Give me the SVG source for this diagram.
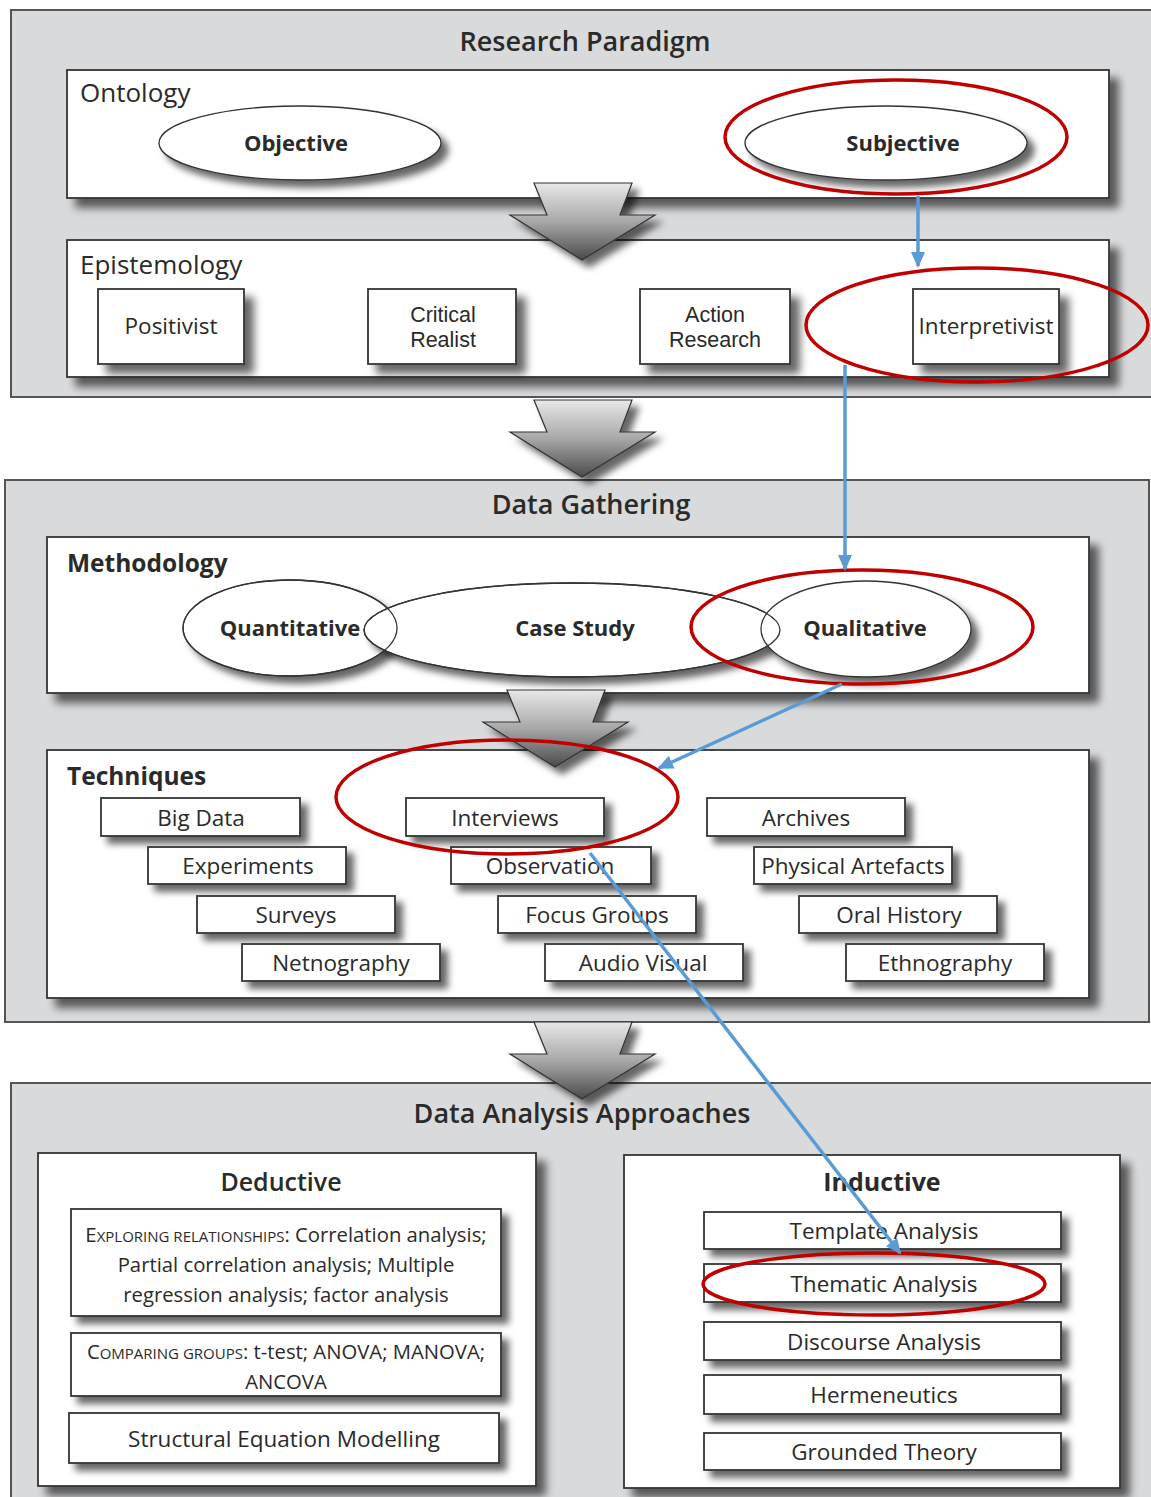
<svg xmlns="http://www.w3.org/2000/svg" xmlns:xlink="http://www.w3.org/1999/xlink" width="1151" height="1497" viewBox="0 0 1151 1497">
<defs>
  <filter id="sh" x="-10%" y="-10%" width="130%" height="150%">
    <feDropShadow dx="9" dy="9" stdDeviation="4" flood-color="#000" flood-opacity="0.6"/>
  </filter>
  <filter id="shs" x="-20%" y="-30%" width="150%" height="180%">
    <feDropShadow dx="7" dy="7" stdDeviation="3.5" flood-color="#000" flood-opacity="0.6"/>
  </filter>
  <linearGradient id="ag" x1="0" y1="0" x2="0" y2="1">
    <stop offset="0" stop-color="#e8e8e8"/>
    <stop offset="0.5" stop-color="#a8a8a8"/>
    <stop offset="1" stop-color="#4a4a4a"/>
  </linearGradient>
  <path id="bigarrow" d="M-48,0 L50,0 L38,32 L73,32 L0,77 L-72,32 L-35,32 Z" fill="url(#ag)" stroke="#333" stroke-width="1.2"/>
  <marker id="bh" markerUnits="userSpaceOnUse" markerWidth="16" markerHeight="14" refX="14" refY="7" orient="auto">
    <path d="M0,0 L16,7 L0,14 Z" fill="#5b9bd5"/>
  </marker>
</defs>
<style>
  text { font-family: "Open Sans", "Liberation Sans", sans-serif; fill: #2a2a2a; }
  .panel { fill: #d9dadc; stroke: #555; stroke-width: 2; }
  .box { fill: #fff; stroke: #333; stroke-width: 1.8; filter: url(#sh); }
  .sbox { fill: #fff; stroke: #333; stroke-width: 1.8; filter: url(#shs); }
  .oval { fill: #fff; stroke: #333; stroke-width: 1.3; filter: url(#shs); }
  .ovalline { fill: none; stroke: #333; stroke-width: 1.3; }
  .title { font-size: 27px; font-weight: 600; text-anchor: middle; }
  .lab { font-size: 26px; }
  .labb { font-size: 24.5px; font-weight: 700; }
  .ot { font-size: 22px; font-weight: 700; text-anchor: middle; }
  .t { font-size: 22.5px; text-anchor: middle; }
  .t2 { font-family: "Liberation Sans", Arial, sans-serif; font-size: 21.5px; text-anchor: middle; }
  .ts { font-size: 20.3px; text-anchor: middle; }
  .sc { font-size: 15px; }
  .red { fill: none; stroke: #c00000; stroke-width: 3.5; }
  .blue { fill: none; stroke: #5b9bd5; stroke-width: 3.5; marker-end: url(#bh); }
</style>

<!-- Panels -->
<g id="panel-research-paradigm">
  <rect class="panel" x="11" y="10" width="1145" height="387"/>
  <text class="title" x="585" y="51">Research Paradigm</text>
</g>
<g id="panel-data-gathering">
  <rect class="panel" x="5" y="480" width="1144" height="542"/>
  <text class="title" x="591" y="514">Data Gathering</text>
</g>
<g id="panel-data-analysis">
  <rect class="panel" x="11" y="1083" width="1145" height="420"/>
  <text class="title" x="582" y="1123">Data Analysis Approaches</text>
</g>

<!-- Ontology -->
<g id="ontology">
  <rect class="box" x="67" y="70" width="1042" height="128"/>
  <text class="lab" x="80" y="102">Ontology</text>
</g>
<g id="objective">
  <ellipse class="oval" cx="300" cy="143" rx="141" ry="37"/>
  <text class="ot" x="296" y="151">Objective</text>
</g>
<g id="subjective">
  <ellipse class="oval" cx="886" cy="143" rx="141" ry="37"/>
  <text class="ot" x="903" y="151">Subjective</text>
</g>

<!-- Epistemology -->
<g id="epistemology">
  <rect class="box" x="67" y="240" width="1042" height="137"/>
  <text class="lab" x="80" y="274">Epistemology</text>
</g>
<g id="positivist">
  <rect class="box" x="98" y="289" width="146" height="75"/>
  <text class="t" x="171" y="334">Positivist</text>
</g>
<g id="critical-realist">
  <rect class="box" x="368" y="289" width="148" height="75"/>
  <text class="t2" x="443" y="322">Critical</text>
  <text class="t2" x="443" y="347">Realist</text>
</g>
<g id="action-research">
  <rect class="box" x="640" y="289" width="150" height="75"/>
  <text class="t2" x="715" y="322">Action</text>
  <text class="t2" x="715" y="347">Research</text>
</g>
<g id="interpretivist">
  <rect class="box" x="913" y="289" width="146" height="75"/>
  <text class="t" x="986" y="334">Interpretivist</text>
</g>

<!-- Methodology -->
<g id="methodology">
  <rect class="box" x="47" y="537" width="1042" height="156"/>
  <text class="labb" x="67" y="572">Methodology</text>
</g>
<g id="methodology-ovals">
  <ellipse class="oval" cx="290" cy="628" rx="107" ry="48"/>
  <ellipse class="oval" cx="572" cy="630" rx="208" ry="47"/>
  <ellipse class="oval" cx="866" cy="629" rx="105" ry="48"/>
  <ellipse class="ovalline" cx="290" cy="628" rx="107" ry="48"/>
  <ellipse class="ovalline" cx="572" cy="630" rx="208" ry="47"/>
</g>
<g id="quantitative"><text class="ot" x="290" y="636">Quantitative</text></g>
<g id="case-study"><text class="ot" x="575" y="636">Case Study</text></g>
<g id="qualitative"><text class="ot" x="865" y="636">Qualitative</text></g>

<!-- Techniques -->
<g id="techniques">
  <rect class="box" x="47" y="750" width="1042" height="248"/>
  <text class="labb" x="67" y="785">Techniques</text>
</g>
<g id="big-data"><rect class="sbox" x="101" y="798" width="199" height="38"/><text class="t" x="201" y="826">Big Data</text></g>
<g id="experiments"><rect class="sbox" x="148" y="847" width="198" height="37"/><text class="t" x="248" y="874">Experiments</text></g>
<g id="surveys"><rect class="sbox" x="197" y="896" width="198" height="37"/><text class="t" x="296" y="923">Surveys</text></g>
<g id="netnography"><rect class="sbox" x="242" y="944" width="198" height="37"/><text class="t" x="341" y="971">Netnography</text></g>
<g id="interviews"><rect class="sbox" x="406" y="798" width="198" height="38"/><text class="t" x="505" y="826">Interviews</text></g>
<g id="observation"><rect class="sbox" x="451" y="847" width="200" height="37"/><text class="t" x="550" y="874">Observation</text></g>
<g id="focus-groups"><rect class="sbox" x="498" y="896" width="198" height="37"/><text class="t" x="597" y="923">Focus Groups</text></g>
<g id="audio-visual"><rect class="sbox" x="545" y="944" width="198" height="37"/><text class="t" x="643" y="971">Audio Visual</text></g>
<g id="archives"><rect class="sbox" x="707" y="798" width="198" height="38"/><text class="t" x="806" y="826">Archives</text></g>
<g id="physical-artefacts"><rect class="sbox" x="754" y="847" width="198" height="37"/><text class="t" x="853" y="874">Physical Artefacts</text></g>
<g id="oral-history"><rect class="sbox" x="799" y="896" width="198" height="37"/><text class="t" x="899" y="923">Oral History</text></g>
<g id="ethnography"><rect class="sbox" x="846" y="944" width="198" height="37"/><text class="t" x="945" y="971">Ethnography</text></g>

<!-- Deductive -->
<g id="deductive">
  <rect class="box" x="38" y="1153" width="498" height="333"/>
  <text class="t" x="281" y="1191" style="font-size:25px;font-weight:600">Deductive</text>
</g>
<g id="exploring-relationships">
  <rect class="sbox" x="71" y="1209" width="430" height="107"/>
  <text class="ts" x="286" y="1242">E<tspan class="sc">XPLORING RELATIONSHIPS</tspan>: Correlation analysis;</text>
  <text class="ts" x="286" y="1272">Partial correlation analysis; Multiple</text>
  <text class="ts" x="286" y="1302">regression analysis; factor analysis</text>
</g>
<g id="comparing-groups">
  <rect class="sbox" x="71" y="1333" width="430" height="63"/>
  <text class="ts" x="286" y="1359">C<tspan class="sc">OMPARING GROUPS</tspan>: t-test; ANOVA; MANOVA;</text>
  <text class="ts" x="286" y="1389">ANCOVA</text>
</g>
<g id="sem">
  <rect class="sbox" x="69" y="1413" width="430" height="50"/>
  <text class="t" x="284" y="1447">Structural Equation Modelling</text>
</g>

<!-- Inductive -->
<g id="inductive">
  <rect class="box" x="624" y="1155" width="496" height="333"/>
  <text class="t" x="882" y="1191" style="font-size:25px;font-weight:700">Inductive</text>
</g>
<g id="template-analysis"><rect class="sbox" x="704" y="1212" width="357" height="37"/><text class="t" x="884" y="1239">Template Analysis</text></g>
<g id="thematic-analysis"><rect class="sbox" x="704" y="1264" width="357" height="38"/><text class="t" x="884" y="1292">Thematic Analysis</text></g>
<g id="discourse-analysis"><rect class="sbox" x="704" y="1322" width="357" height="38"/><text class="t" x="884" y="1350">Discourse Analysis</text></g>
<g id="hermeneutics"><rect class="sbox" x="704" y="1375" width="357" height="39"/><text class="t" x="884" y="1403">Hermeneutics</text></g>
<g id="grounded-theory"><rect class="sbox" x="704" y="1433" width="357" height="37"/><text class="t" x="884" y="1460">Grounded Theory</text></g>

<!-- Big flow arrows -->
<g id="flow-arrows" filter="url(#shs)">
  <use xlink:href="#bigarrow" href="#bigarrow" transform="translate(582,183)"/>
  <use xlink:href="#bigarrow" href="#bigarrow" transform="translate(582,400)"/>
  <use xlink:href="#bigarrow" href="#bigarrow" transform="translate(555,690)"/>
  <use xlink:href="#bigarrow" href="#bigarrow" transform="translate(582,1022)"/>
</g>

<!-- Red highlight ellipses -->
<g id="highlights">
  <ellipse class="red" cx="896" cy="137" rx="171" ry="57"/>
  <ellipse class="red" cx="977" cy="325" rx="171" ry="57"/>
  <ellipse class="red" cx="862" cy="627" rx="171" ry="57"/>
  <ellipse class="red" cx="507" cy="797" rx="171" ry="57"/>
  <ellipse class="red" cx="874" cy="1284" rx="171" ry="31"/>
</g>

<!-- Connectors -->
<g id="connectors">
  <line class="blue" x1="918" y1="196" x2="918" y2="266"/>
  <line class="blue" x1="845" y1="365" x2="845" y2="569"/>
  <line class="blue" x1="842" y1="684" x2="659" y2="768"/>
  <line class="blue" x1="590" y1="853" x2="900" y2="1253"/>
</g>
</svg>
